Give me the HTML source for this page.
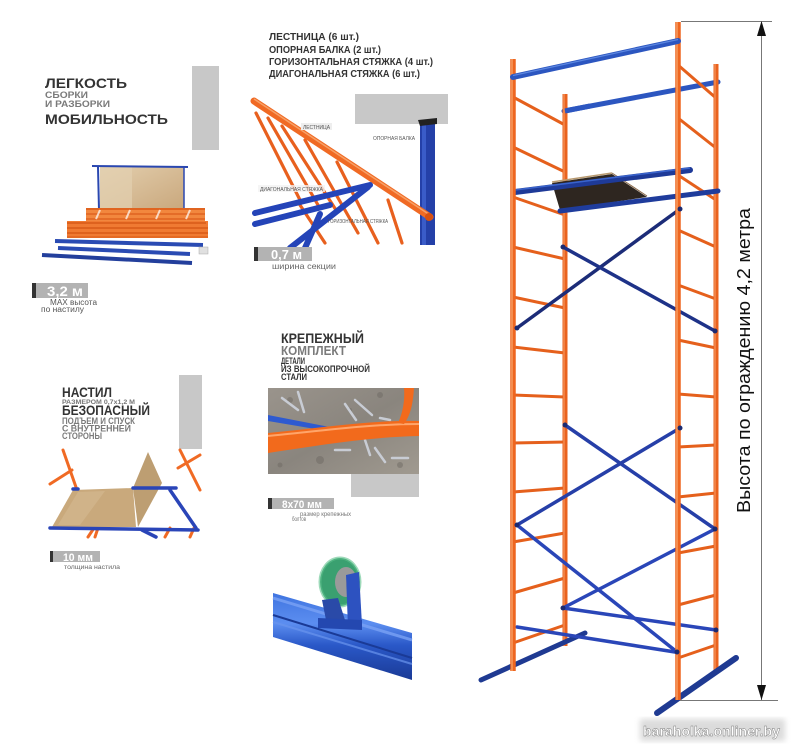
<!DOCTYPE html>
<html><head><meta charset="utf-8"><style>
html,body{margin:0;padding:0;background:#fff;}
svg{display:block;}
text{font-family:"Liberation Sans",sans-serif;}
</style></head><body>
<svg width="800" height="751" viewBox="0 0 800 751" xmlns="http://www.w3.org/2000/svg">
<defs>
<filter id="blur2"><feGaussianBlur stdDeviation="3"/></filter>
<linearGradient id="ply" x1="0" y1="0" x2="1" y2="1"><stop offset="0" stop-color="#e3cfae"/><stop offset="1" stop-color="#c9a77c"/></linearGradient>
<linearGradient id="blueTube" x1="0" y1="0" x2="0" y2="1"><stop offset="0" stop-color="#3f74e0"/><stop offset="0.35" stop-color="#5c8ef0"/><stop offset="0.6" stop-color="#2a58c8"/><stop offset="1" stop-color="#1a3a96"/></linearGradient>
<linearGradient id="concrete" x1="0" y1="0" x2="1" y2="1"><stop offset="0" stop-color="#9a948c"/><stop offset="0.5" stop-color="#8a857e"/><stop offset="1" stop-color="#a09a90"/></linearGradient>
</defs>

<!-- ============ PANEL 1 ============ -->
<rect x="192" y="66" width="27" height="84" fill="#c8c8c8"/>
<text x="45" y="88" font-size="14" font-weight="bold" fill="#333" textLength="82" lengthAdjust="spacingAndGlyphs">ЛЕГКОСТЬ</text>
<text x="45" y="98" font-size="9.5" font-weight="bold" fill="#7a7a7a" textLength="43" lengthAdjust="spacingAndGlyphs">СБОРКИ</text>
<text x="45" y="107" font-size="9.5" font-weight="bold" fill="#7a7a7a" textLength="65" lengthAdjust="spacingAndGlyphs">И РАЗБОРКИ</text>
<text x="45" y="124" font-size="14" font-weight="bold" fill="#333" textLength="123" lengthAdjust="spacingAndGlyphs">МОБИЛЬНОСТЬ</text>
<g>
<rect x="100" y="167" width="84" height="43" fill="url(#ply)"/>
<rect x="100" y="167" width="32" height="43" fill="#e2d0b0" opacity="0.7"/>
<line x1="92" y1="166" x2="188" y2="167" stroke="#2a47b0" stroke-width="2"/>
<line x1="98" y1="167" x2="99" y2="210" stroke="#2a47b0" stroke-width="2"/>
<line x1="184" y1="167" x2="184" y2="210" stroke="#2a47b0" stroke-width="1.5"/>
<rect x="86" y="208" width="119" height="13" fill="#f2873e"/>
<line x1="86" y1="209" x2="205" y2="209" stroke="#e06420" stroke-width="2"/>
<line x1="86" y1="214" x2="205" y2="214" stroke="#e06420" stroke-width="1.5"/>
<line x1="86" y1="219" x2="205" y2="219" stroke="#e06420" stroke-width="1.5"/>
<g stroke="#fff" stroke-width="2" opacity="0.7">
<line x1="100" y1="210" x2="96" y2="219"/><line x1="130" y1="210" x2="126" y2="219"/><line x1="160" y1="210" x2="156" y2="219"/><line x1="190" y1="210" x2="186" y2="219"/>
</g>
<rect x="67" y="221" width="141" height="17" fill="#f07a32"/>
<line x1="67" y1="223" x2="206" y2="223" stroke="#d85a18" stroke-width="1.5"/>
<line x1="67" y1="228" x2="208" y2="228" stroke="#d85a18" stroke-width="1.5"/>
<line x1="67" y1="233" x2="208" y2="233" stroke="#d85a18" stroke-width="1.5"/>
<line x1="67" y1="237" x2="208" y2="237" stroke="#d85a18" stroke-width="1"/>
<line x1="55" y1="241" x2="203" y2="245" stroke="#2a4bb3" stroke-width="4"/>
<line x1="58" y1="248" x2="190" y2="254" stroke="#2a4bb3" stroke-width="4"/>
<line x1="42" y1="255" x2="192" y2="263" stroke="#233f9c" stroke-width="4"/>
<rect x="199" y="247" width="9" height="7" fill="#e0e0e0" stroke="#aaa" stroke-width="0.5"/>
</g>
<rect x="32" y="283" width="4" height="15" fill="#333"/>
<rect x="36" y="283" width="52" height="15" fill="#b3b3b3"/>
<text x="47" y="296" font-size="14" font-weight="bold" fill="#fff" textLength="36" lengthAdjust="spacingAndGlyphs">3,2 м</text>
<text x="50" y="305" font-size="8" fill="#555" textLength="47" lengthAdjust="spacingAndGlyphs">MAX высота</text>
<text x="41" y="312" font-size="8" fill="#555" textLength="43" lengthAdjust="spacingAndGlyphs">по настилу</text>

<!-- ============ PANEL 2 ============ -->
<text x="269" y="40" font-size="10" font-weight="bold" fill="#333" textLength="90" lengthAdjust="spacingAndGlyphs">ЛЕСТНИЦА (6 шт.)</text>
<text x="269" y="53" font-size="10" font-weight="bold" fill="#333" textLength="112" lengthAdjust="spacingAndGlyphs">ОПОРНАЯ БАЛКА (2 шт.)</text>
<text x="269" y="65" font-size="10" font-weight="bold" fill="#333" textLength="164" lengthAdjust="spacingAndGlyphs">ГОРИЗОНТАЛЬНАЯ СТЯЖКА (4 шт.)</text>
<text x="269" y="77" font-size="10" font-weight="bold" fill="#333" textLength="151" lengthAdjust="spacingAndGlyphs">ДИАГОНАЛЬНАЯ СТЯЖКА (6 шт.)</text>
<rect x="355" y="94" width="93" height="30" fill="#c8c8c8"/>
<rect x="420" y="122" width="15" height="123" fill="#2440a8"/>
<rect x="422" y="122" width="4" height="123" fill="#3a5cc8"/>
<polygon points="418,120 437,118 437,124 420,126" fill="#222"/>
<g stroke="#e8601e" stroke-width="3.2" stroke-linecap="round">
<line x1="256" y1="113" x2="300" y2="200"/>
<line x1="268" y1="118" x2="318" y2="205"/>
<line x1="282" y1="126" x2="336" y2="210"/>
<line x1="305" y1="140" x2="358" y2="233"/>
<line x1="337" y1="162" x2="378" y2="243"/>
<line x1="388" y1="200" x2="402" y2="243"/>
<line x1="300" y1="205" x2="325" y2="243"/>
</g>
<line x1="254" y1="101" x2="430" y2="217" stroke="#f06a24" stroke-width="7" stroke-linecap="round"/>
<line x1="254" y1="99" x2="430" y2="215" stroke="#f7a066" stroke-width="1.5"/>
<ellipse cx="429" cy="217" rx="4" ry="4" fill="#d85010"/>
<g stroke="#2444b8" stroke-width="6" stroke-linecap="round">
<line x1="370" y1="185" x2="255" y2="213"/>
<line x1="368" y1="187" x2="290" y2="248"/>
<line x1="330" y1="205" x2="255" y2="224"/>
<line x1="320" y1="214" x2="305" y2="248"/>
</g>
<g font-size="5" fill="#555">
<rect x="301" y="123" width="31" height="7" fill="#eee"/>
<text x="303" y="129" textLength="27" lengthAdjust="spacingAndGlyphs">ЛЕСТНИЦА</text>
<text x="373" y="140" textLength="42" lengthAdjust="spacingAndGlyphs">ОПОРНАЯ БАЛКА</text>
<rect x="258" y="185" width="67" height="7" fill="#f2f2f2" opacity="0.8"/>
<text x="260" y="191" textLength="63" lengthAdjust="spacingAndGlyphs">ДИАГОНАЛЬНАЯ СТЯЖКА</text>
<text x="328" y="223" textLength="60" lengthAdjust="spacingAndGlyphs">ГОРИЗОНТАЛЬНАЯ СТЯЖКА</text>
</g>
<rect x="254" y="247" width="4" height="14" fill="#333"/>
<rect x="258" y="247" width="54" height="14" fill="#b3b3b3"/>
<text x="271" y="259" font-size="13" font-weight="bold" fill="#fff" textLength="31" lengthAdjust="spacingAndGlyphs">0,7 м</text>
<text x="272" y="269" font-size="8.5" fill="#666" textLength="64" lengthAdjust="spacingAndGlyphs">ширина секции</text>

<!-- ============ PANEL 3 ============ -->
<rect x="179" y="375" width="23" height="74" fill="#c8c8c8"/>
<text x="62" y="397" font-size="14" font-weight="bold" fill="#333" textLength="50" lengthAdjust="spacingAndGlyphs">НАСТИЛ</text>
<text x="62" y="404" font-size="6.5" font-weight="bold" fill="#777" textLength="73" lengthAdjust="spacingAndGlyphs">РАЗМЕРОМ 0,7х1,2 М</text>
<text x="62" y="415" font-size="14" font-weight="bold" fill="#333" textLength="88" lengthAdjust="spacingAndGlyphs">БЕЗОПАСНЫЙ</text>
<text x="62" y="424" font-size="9" font-weight="bold" fill="#7a7a7a" textLength="73" lengthAdjust="spacingAndGlyphs">ПОДЪЕМ И СПУСК</text>
<text x="62" y="431.5" font-size="9" font-weight="bold" fill="#7a7a7a" textLength="69" lengthAdjust="spacingAndGlyphs">С ВНУТРЕННЕЙ</text>
<text x="62" y="439" font-size="9" font-weight="bold" fill="#7a7a7a" textLength="40" lengthAdjust="spacingAndGlyphs">СТОРОНЫ</text>
<g stroke="#f06a24" stroke-width="3" stroke-linecap="round">
<line x1="63" y1="450" x2="77" y2="490"/>
<line x1="50" y1="484" x2="72" y2="470"/>
<line x1="180" y1="450" x2="200" y2="490"/>
<line x1="178" y1="468" x2="200" y2="455"/>
<line x1="88" y1="537" x2="94" y2="528"/>
<line x1="95" y1="537" x2="98" y2="528"/>
<line x1="165" y1="537" x2="170" y2="528"/>
<line x1="190" y1="537" x2="194" y2="528"/>
</g>
<polygon points="73,490 133,488 136,527 52,527" fill="#c9a97c"/>
<polygon points="78,492 105,491 80,525 58,525" fill="#d6bb92" opacity="0.6"/>
<polygon points="133,488 148,452 162,483 138,527" fill="#bd9e72"/>
<g stroke="#2a45b8" stroke-width="3.5" stroke-linecap="round">
<line x1="73" y1="489" x2="78" y2="489"/>
<line x1="133" y1="488" x2="176" y2="488"/>
<line x1="170" y1="490" x2="196" y2="528"/>
<line x1="50" y1="528" x2="198" y2="530"/>
<line x1="142" y1="530" x2="156" y2="537"/>
</g>
<rect x="50" y="551" width="3" height="11" fill="#333"/>
<rect x="53" y="551" width="47" height="11" fill="#b3b3b3"/>
<text x="63" y="561" font-size="11" font-weight="bold" fill="#fff" textLength="30" lengthAdjust="spacingAndGlyphs">10 мм</text>
<text x="64" y="569" font-size="6.5" fill="#666" textLength="56" lengthAdjust="spacingAndGlyphs">толщина настила</text>

<!-- ============ PANEL 4 ============ -->
<text x="281" y="343" font-size="14" font-weight="bold" fill="#333" textLength="83" lengthAdjust="spacingAndGlyphs">КРЕПЕЖНЫЙ</text>
<text x="281" y="355" font-size="13" font-weight="bold" fill="#7a7a7a" textLength="65" lengthAdjust="spacingAndGlyphs">КОМПЛЕКТ</text>
<text x="281" y="364" font-size="9" font-weight="bold" fill="#333" textLength="24" lengthAdjust="spacingAndGlyphs">ДЕТАЛИ</text>
<text x="281" y="372" font-size="9" font-weight="bold" fill="#333" textLength="89" lengthAdjust="spacingAndGlyphs">ИЗ ВЫСОКОПРОЧНОЙ</text>
<text x="281" y="380" font-size="9" font-weight="bold" fill="#333" textLength="26" lengthAdjust="spacingAndGlyphs">СТАЛИ</text>
<rect x="268" y="388" width="151" height="86" fill="url(#concrete)"/>
<g fill="#6f6a64" opacity="0.5">
<circle cx="290" cy="400" r="3"/><circle cx="320" cy="460" r="4"/><circle cx="380" cy="395" r="3"/><circle cx="400" cy="465" r="3"/><circle cx="280" cy="465" r="2.5"/><circle cx="350" cy="410" r="2"/>
</g>
<g stroke="#c8ccd4" stroke-width="2.5" stroke-linecap="round">
<line x1="298" y1="392" x2="304" y2="412"/>
<line x1="345" y1="404" x2="356" y2="420"/>
<line x1="355" y1="400" x2="372" y2="415"/>
<line x1="282" y1="398" x2="298" y2="410"/>
<line x1="392" y1="458" x2="408" y2="458"/>
<line x1="365" y1="440" x2="370" y2="455"/>
<line x1="375" y1="448" x2="385" y2="462"/>
<line x1="335" y1="450" x2="350" y2="450"/>
<line x1="380" y1="418" x2="390" y2="420"/>
</g>
<path d="M268,415 L345,430 L345,434 L268,421 Z" fill="#2e5ad0"/>
<path d="M268,433 C320,428 370,420 419,421 L419,436 C370,437 320,445 268,453 Z" fill="#f26a1c"/>
<path d="M268,436 C320,431 370,424 419,424" stroke="#ffa56a" stroke-width="2" fill="none"/>
<path d="M404,388 L414,388 C413,405 410,416 404,424 L398,423 C403,412 405,400 404,388 Z" fill="#f26a1c"/>
<rect x="351" y="474" width="68" height="23" fill="#c8c8c8"/>
<rect x="268" y="498" width="4" height="11" fill="#333"/>
<rect x="272" y="498" width="62" height="11" fill="#b3b3b3"/>
<text x="282" y="508" font-size="11" font-weight="bold" fill="#fff" textLength="40" lengthAdjust="spacingAndGlyphs">8х70 мм</text>
<text x="300" y="516" font-size="6.5" fill="#777" textLength="51" lengthAdjust="spacingAndGlyphs">размер крепежных</text>
<text x="292" y="521" font-size="6.5" fill="#777" textLength="14" lengthAdjust="spacingAndGlyphs">болтов</text>

<!-- ============ PANEL 5 (wheel) ============ -->
<polygon points="273,593 412,633 412,680 273,637" fill="url(#blueTube)"/>
<path d="M273,598 L412,640" stroke="#7aa2f5" stroke-width="3" opacity="0.8"/>
<path d="M273,615 L412,658" stroke="#1a3a96" stroke-width="2"/>
<path d="M273,622 L412,664" stroke="#6a95ee" stroke-width="2" opacity="0.7"/>
<ellipse cx="340" cy="582" rx="20" ry="24" fill="#3aa070"/>
<ellipse cx="340" cy="582" rx="20" ry="24" fill="none" stroke="#5cc08a" stroke-width="3" opacity="0.6"/>
<ellipse cx="346" cy="582" rx="11" ry="15" fill="#9a9a9a"/>
<ellipse cx="352" cy="582" rx="6" ry="8" fill="#c8a070"/>
<polygon points="322,600 338,598 345,620 326,620" fill="#2a4aa8"/>
<polygon points="346,575 359,572 362,625 348,628" fill="#2d52c0"/>
<polygon points="318,618 362,620 362,630 318,628" fill="#2448b0"/>

<!-- ============ SCAFFOLD ============ -->
<line x1="564" y1="111" x2="718" y2="82" stroke="#2c56c0" stroke-width="5" stroke-linecap="round"/>
<g stroke="#e5601c" stroke-width="3">
<line x1="513" y1="97" x2="565" y2="125"/>
<line x1="513" y1="147" x2="565" y2="172"/>
<line x1="513" y1="197" x2="565" y2="215"/>
<line x1="513" y1="247" x2="565" y2="259"/>
<line x1="513" y1="297" x2="565" y2="308"/>
<line x1="513" y1="347" x2="565" y2="353"/>
<line x1="513" y1="395" x2="565" y2="397"/>
<line x1="513" y1="443" x2="565" y2="442"/>
<line x1="513" y1="492" x2="565" y2="488"/>
<line x1="513" y1="542" x2="565" y2="533"/>
<line x1="513" y1="593" x2="565" y2="578"/>
<line x1="513" y1="643" x2="565" y2="625"/>
</g>
<g stroke="#e5601c" stroke-width="3">
<line x1="678" y1="65" x2="716" y2="98"/>
<line x1="678" y1="118" x2="716" y2="148"/>
<line x1="678" y1="175" x2="716" y2="200"/>
<line x1="678" y1="230" x2="716" y2="247"/>
<line x1="678" y1="285" x2="716" y2="299"/>
<line x1="678" y1="340" x2="716" y2="348"/>
<line x1="678" y1="394" x2="716" y2="397"/>
<line x1="678" y1="447" x2="716" y2="445"/>
<line x1="678" y1="497" x2="716" y2="493"/>
<line x1="678" y1="553" x2="716" y2="546"/>
<line x1="678" y1="605" x2="716" y2="595"/>
<line x1="678" y1="658" x2="716" y2="645"/>
</g>
<line x1="565" y1="94" x2="565" y2="646" stroke="#ea621e" stroke-width="5"/>
<line x1="564" y1="94" x2="564" y2="646" stroke="#f5a06a" stroke-width="1"/>
<line x1="716" y1="64" x2="716" y2="671" stroke="#ea621e" stroke-width="5"/>
<line x1="715" y1="64" x2="715" y2="671" stroke="#f5a06a" stroke-width="1"/>
<line x1="481" y1="680" x2="585" y2="633" stroke="#1f3a92" stroke-width="5" stroke-linecap="round"/>
<line x1="657" y1="713" x2="736" y2="658" stroke="#1f3a92" stroke-width="6" stroke-linecap="round"/>
<polygon points="552,183 612,174 647,197 560,210" fill="#2e2620"/>
<line x1="552" y1="182" x2="612" y2="173" stroke="#b89a70" stroke-width="1.5"/>
<line x1="612" y1="173" x2="647" y2="196" stroke="#8a6a4a" stroke-width="1"/>
<line x1="560" y1="211" x2="718" y2="191" stroke="#1f3c9c" stroke-width="5" stroke-linecap="round"/>
<line x1="515" y1="192" x2="690" y2="170" stroke="#1e3a98" stroke-width="6" stroke-linecap="round"/>
<line x1="515" y1="190" x2="690" y2="168" stroke="#3a64cc" stroke-width="1.5"/>
<g stroke-linecap="round">
<line x1="680" y1="209" x2="517" y2="328" stroke="#1c2c78" stroke-width="3.5"/>
<line x1="563" y1="247" x2="715" y2="331" stroke="#1e3288" stroke-width="3.5"/>
<line x1="565" y1="425" x2="715" y2="529" stroke="#263fa8" stroke-width="3.5"/>
<line x1="680" y1="428" x2="517" y2="525" stroke="#263fa8" stroke-width="3.5"/>
<line x1="517" y1="525" x2="677" y2="652" stroke="#2a46b8" stroke-width="3.5"/>
<line x1="563" y1="608" x2="715" y2="529" stroke="#2a46b8" stroke-width="3.5"/>
<line x1="563" y1="608" x2="716" y2="630" stroke="#2a46b8" stroke-width="3.5"/>
<line x1="517" y1="627" x2="675" y2="652" stroke="#2a46b8" stroke-width="3.5"/>
</g>
<line x1="513" y1="59" x2="513" y2="671" stroke="#ee6620" stroke-width="5.5"/>
<line x1="512" y1="59" x2="512" y2="671" stroke="#f8a870" stroke-width="1.2"/>
<line x1="678" y1="22" x2="678" y2="700" stroke="#ee6620" stroke-width="5.5"/>
<line x1="677" y1="22" x2="677" y2="700" stroke="#f8a870" stroke-width="1.2"/>
<line x1="513" y1="77" x2="678" y2="41" stroke="#2c56c0" stroke-width="6" stroke-linecap="round"/>
<line x1="513" y1="75.5" x2="678" y2="39.5" stroke="#5b86e0" stroke-width="1.2"/>
<line x1="565" y1="111" x2="590" y2="106" stroke="#2c56c0" stroke-width="5"/>
<g fill="#1c2a70">
<circle cx="517" cy="328" r="2.5"/><circle cx="715" cy="331" r="2.5"/><circle cx="680" cy="428" r="2.5"/><circle cx="715" cy="529" r="2.5"/><circle cx="517" cy="525" r="2.5"/><circle cx="563" cy="608" r="2.5"/><circle cx="677" cy="652" r="2.5"/><circle cx="716" cy="630" r="2.5"/><circle cx="565" cy="425" r="2.5"/><circle cx="563" cy="247" r="2.5"/><circle cx="680" cy="209" r="2.5"/>
</g>

<!-- dimension -->
<g stroke="#777" stroke-width="1" fill="none">
<line x1="681" y1="21.5" x2="772" y2="21.5"/>
<line x1="761.5" y1="21" x2="761.5" y2="700"/>
<line x1="680" y1="700.5" x2="778" y2="700.5"/>
</g>
<polygon points="761.5,21 757,36 766,36" fill="#111"/>
<polygon points="761.5,700 757,685 766,685" fill="#111"/>
<text transform="translate(750,513) rotate(-90)" font-size="18" fill="#111" textLength="305" lengthAdjust="spacingAndGlyphs">Высота по ограждению 4,2 метра</text>

<!-- watermark -->
<rect x="640" y="719" width="145" height="22" fill="#b0b0b0" filter="url(#blur2)" opacity="0.45"/>
<text x="643" y="736" font-size="14" font-weight="bold" fill="#fff" stroke="#777" stroke-width="0.4" textLength="137" lengthAdjust="spacingAndGlyphs">baraholka.onliner.by</text>
</svg>
</body></html>
